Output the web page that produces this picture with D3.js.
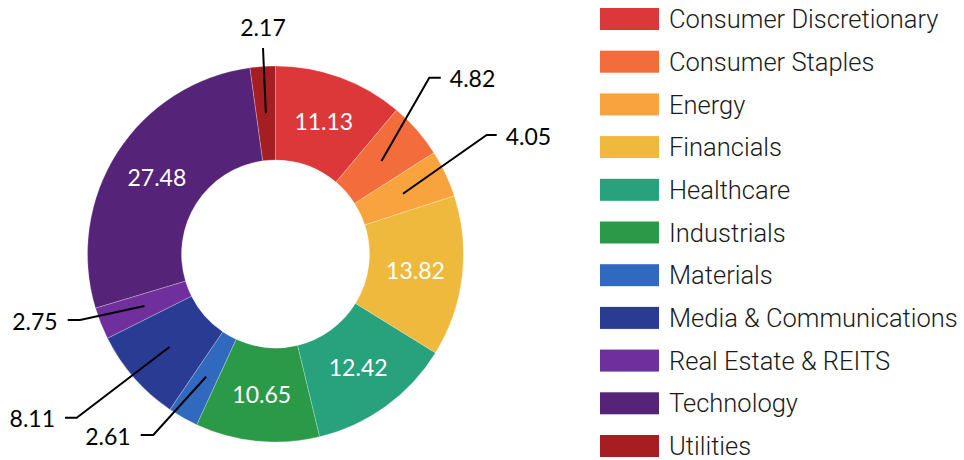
<!DOCTYPE html>
<html>
<head>
<meta charset="utf-8">
<script src="https://cdn.jsdelivr.net/npm/d3@7"></script>
<style>
  html, body { margin: 0; padding: 0; background: #fff; }
  svg { display: block; }
</style>
</head>
<body>
<svg id="chart" width="964" height="460"></svg>
<script>
// sectors, clockwise from 12 o'clock
var sectors = ["Consumer Discretionary", "Consumer Staples", "Energy", "Financials",
  "Healthcare", "Industrials", "Materials", "Media & Communications",
  "Real Estate & REITS", "Technology", "Utilities"];
var weights = [11.13, 4.82, 4.05, 13.82, 12.42, 10.65, 2.61, 8.11, 2.75, 27.48, 2.17];
var colors = ["#dd3839", "#f26c3c", "#f9a33e", "#eeb93c", "#27a27c", "#2b9a48",
  "#3169bf", "#2a3b94", "#6f309e", "#552478", "#a71e22"];

// small slices get a callout outside the ring (elbow point relative to centre, tail direction)
var callouts = {
  "Utilities":              { ex: -12.5, ey: -206, tail: 0 },
  "Consumer Staples":       { ex: 153.8, ey: -176.3, tail: 11.5 },
  "Energy":                 { ex: 211.2, ey: -119, tail: 10 },
  "Real Estate & REITS":    { ex: -195.5, ey: 66, tail: -12.3 },
  "Media & Communications": { ex: -198.8, ey: 163.7, tail: -11.7 },
  "Materials":              { ex: -122.2, ey: 181, tail: -12.6 }
};

var svg = d3.select("#chart");
var cx = 275.5, cy = 254;
var outerR = 188, innerR = 94;

var data = sectors.map(function(s, i) { return { key: s, value: weights[i], color: colors[i] }; });

var pie = d3.pie()
  .sort(null)
  .value(function(d) { return d.value; });

var arc = d3.arc()
  .innerRadius(innerR)
  .outerRadius(outerR);

var arcs = pie(data);

var g = svg.append("g")
  .attr("transform", "translate(" + cx + "," + cy + ")");

g.selectAll("path.slice")
  .data(arcs)
  .enter()
  .append("path")
    .attr("class", "slice")
    .attr("d", arc)
    .attr("fill", function(d) { return d.data.color; })
    .attr("stroke", "rgba(255,255,255,0.35)")
    .attr("stroke-width", 0.7);

var labelFont = "Lato, 'Open Sans', sans-serif";

// labels inside the ring
g.selectAll("text.inner")
  .data(arcs.filter(function(d) { return !callouts[d.data.key]; }))
  .enter()
  .append("text")
    .attr("class", "inner")
    .attr("x", function(d) { return arc.centroid(d)[0]; })
    .attr("y", function(d) { return arc.centroid(d)[1]; })
    .attr("dy", "0.36em")
    .attr("text-anchor", "middle")
    .attr("fill", "#fff")
    .style("font-family", labelFont)
    .style("font-size", "23px")
    .text(function(d) { return d.data.value.toFixed(2); });

// callout labels
var outer = arcs.filter(function(d) { return callouts[d.data.key]; });

g.selectAll("polyline.leader")
  .data(outer)
  .enter()
  .append("polyline")
    .attr("class", "leader")
    .attr("points", function(d) {
      var c = arc.centroid(d), p = callouts[d.data.key];
      return [c, [p.ex, p.ey], [p.ex + p.tail, p.ey]].map(function(q) { return q.join(","); }).join(" ");
    })
    .attr("fill", "none")
    .attr("stroke", "#000")
    .attr("stroke-width", 2);

g.selectAll("text.outer")
  .data(outer)
  .enter()
  .append("text")
    .attr("class", "outer")
    .attr("x", function(d) {
      var p = callouts[d.data.key];
      if (p.tail === 0) return p.ex;
      return p.ex + p.tail + (p.tail > 0 ? 9 : -10);
    })
    .attr("y", function(d) {
      var p = callouts[d.data.key];
      return p.tail === 0 ? p.ey - 20 : p.ey + 1.5;
    })
    .attr("dy", "0.36em")
    .attr("text-anchor", function(d) {
      var p = callouts[d.data.key];
      return p.tail === 0 ? "middle" : (p.tail > 0 ? "start" : "end");
    })
    .attr("fill", "#000")
    .style("font-family", labelFont)
    .style("font-size", "23px")
    .text(function(d) { return d.data.value.toFixed(2); });

// legend
var legendY = d3.scalePoint()
  .domain(sectors)
  .range([19, 446]);

var legend = svg.append("g")
  .attr("class", "legend")
  .selectAll("g")
  .data(data)
  .enter()
  .append("g")
    .attr("transform", function(d) { return "translate(600," + legendY(d.key) + ")"; });

legend.append("rect")
  .attr("x", 0)
  .attr("y", -11)
  .attr("width", 59)
  .attr("height", 22)
  .attr("fill", function(d) { return d.color; });

legend.append("text")
  .attr("x", 69)
  .attr("y", 0)
  .attr("dy", "0.36em")
  .attr("fill", "#1a1a1a")
  .style("font-family", "Roboto, sans-serif")
  .style("font-weight", 300)
  .style("font-size", "25.5px")
  .text(function(d) { return d.key; });
</script>
</body>
</html>
